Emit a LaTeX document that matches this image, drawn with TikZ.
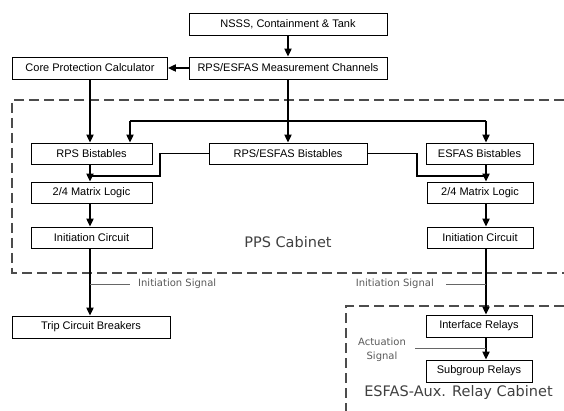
\documentclass[tikz,border=0pt]{standalone}
\usepackage{fontspec}
\setmainfont{Liberation Sans}
\newfontfamily\labfont{DejaVu Sans}
\usetikzlibrary{arrows.meta,calc}
\begin{document}
\begin{tikzpicture}[x=1pt,y=-1pt,
 box/.style={draw, line width=0.8pt, fill=white, inner sep=0pt, minimum height=22pt, font=\fontsize{11}{13}\selectfont},
 sbox/.style={box, font=\fontsize{11}{13}\selectfont, minimum height=21pt},
 arr/.style={line width=1.9pt, -{Triangle[length=8pt,width=7pt]}},
 wire/.style={line width=1.9pt},
 lead/.style={black!60, line width=0.8pt},
 lab/.style={font=\labfont\fontsize{10}{12}\selectfont, text=black!65, inner sep=0pt},
 cab/.style={dash pattern=on 10pt off 5pt, line width=1.2pt, black!70},
 cablab/.style={font=\labfont\fontsize{14.5}{16}\selectfont, text=black!75, inner sep=0pt}]
\useasboundingbox (0,0) rectangle (564,411);
% cabinets
\draw[cab] (564,100) -- (12,100) -- (12,273) -- (564,273);
\draw[cab] (564,306) -- (346,306) -- (346,411);
\node[cablab] (ppslab) at (288,242) {PPS Cabinet};
\node[cablab] (auxlab) at (458.5,392) {ESFAS-Aux. Relay Cabinet};
% boxes
\node[box, minimum width=198pt] (nsss) at (288,24) {NSSS, Containment \& Tank};
\node[box, minimum width=198pt] (meas) at (288,68) {RPS/ESFAS Measurement Channels};
\node[box, minimum width=155pt] (cpc) at (90,68) {Core Protection Calculator};
\node[sbox, minimum width=121pt] (rpsb) at (91.5,153.5) {RPS Bistables};
\node[sbox, minimum width=158pt] (rebs) at (288,153.5) {RPS/ESFAS Bistables};
\node[sbox, minimum width=107pt] (esb) at (479.5,153.5) {ESFAS Bistables};
\node[sbox, minimum width=121pt] (mat1) at (91.5,192.5) {2/4 Matrix Logic};
\node[sbox, minimum width=106pt] (mat2) at (480,192.5) {2/4 Matrix Logic};
\node[sbox, minimum width=121pt] (ini1) at (91.5,237.5) {Initiation Circuit};
\node[sbox, minimum width=106pt] (ini2) at (480,237.5) {Initiation Circuit};
\node[box, minimum width=158pt] (trip) at (91,327) {Trip Circuit Breakers};
\node[sbox, minimum width=106pt, minimum height=22pt] (ifr) at (479,326) {Interface Relays};
\node[sbox, minimum width=106pt, minimum height=22pt] (sub) at (479,371) {Subgroup Relays};
% column coordinates
\coordinate (cL) at (90,0);
\coordinate (cR) at (486,0);
\coordinate (bl) at (130,121);
\coordinate (br) at (486,121);
\coordinate (jL) at (160,176);
\coordinate (jR) at (417,176);
% connectors
\draw[arr] (nsss) -- (meas);
\draw[arr] (meas) -- (cpc);
\draw[arr] (cpc.south -| cL) -- (rpsb.north -| cL);
\draw[arr] (meas) -- (rebs);
\draw[wire] (bl) -- (br);
\draw[arr] (bl) -- (bl |- rpsb.north);
\draw[arr] (br) -- (br |- esb.north);
\draw[arr] (rpsb.south -| cL) -- (mat1.north -| cL);
\draw[arr] (esb.south -| cR) -- (mat2.north -| cR);
\draw[wire] (rebs.west) -| (jL) -- (jL -| cL);
\draw[wire] (rebs.east) -| (jR) -- (jR -| cR);
\draw[arr] (mat1.south -| cL) -- (ini1.north -| cL);
\draw[arr] (mat2.south -| cR) -- (ini2.north -| cR);
\draw[arr] (ini1.south -| cL) -- (trip.north -| cL);
\draw[arr] (ini2.south -| cR) -- (ifr.north -| cR);
\draw[arr] (ifr.south -| cR) -- (sub.north -| cR);
% labels
\node[lab, anchor=west] (is1) at (138,284) {Initiation Signal};
\coordinate (l1) at (90,284);
\draw[lead] (l1) -- (is1.west -| 130,0);
\node[lab, anchor=east] (is2) at (434,284) {Initiation Signal};
\coordinate (l2) at (486,284);
\draw[lead] (is2.east -| 446,0) -- (l2);
\node[lab, align=center] (act) at (382,350) {Actuation\\[2pt]Signal};
\coordinate (l3) at (415,348);
\draw[lead] (l3) -- (l3 -| cR);
\end{tikzpicture}
\end{document}
